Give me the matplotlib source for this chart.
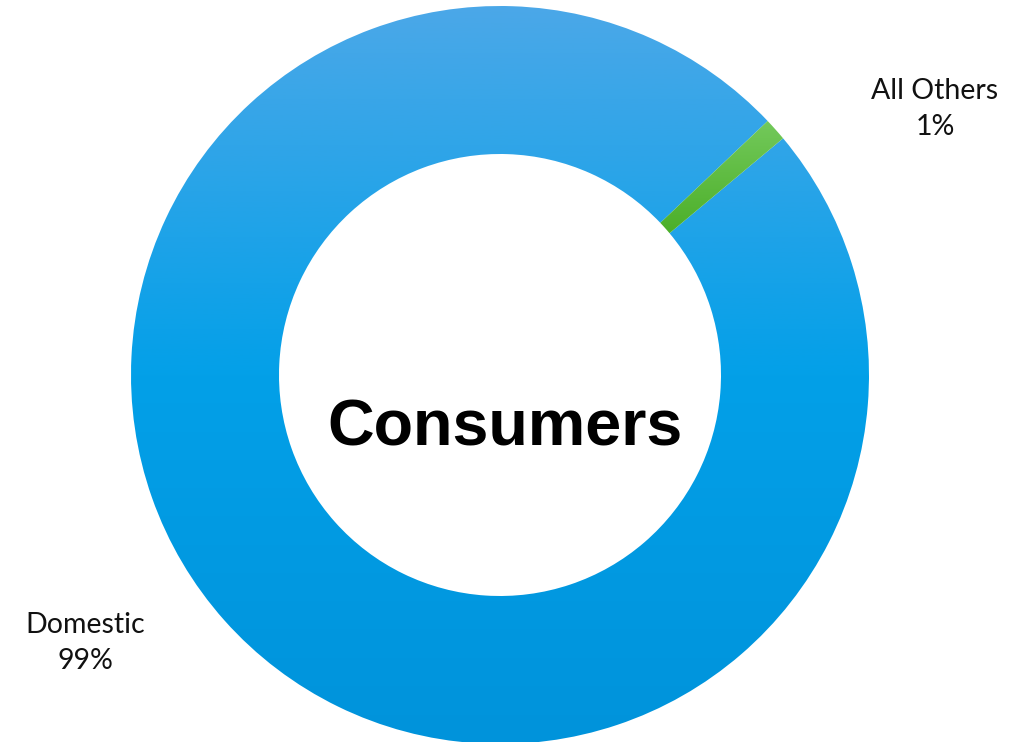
import numpy as np
import matplotlib.pyplot as plt
from matplotlib.colors import LinearSegmentedColormap

# Consumer share by category
categories = ["Domestic", "All Others"]
shares = [99, 1]
label_text = ["Domestic\n99%", "All Others\n1%"]
center_title = "Consumers"

W, H = 1025, 742
fig = plt.figure(figsize=(W / 100, H / 100), dpi=100)
ax = fig.add_axes([0, 0, 1, 1])

cx, cy = 500, H - 375
R = 369
ring = 148

wedges, _ = ax.pie(shares, startangle=43.5, counterclock=True,
                   center=(cx, cy), radius=R,
                   wedgeprops=dict(width=ring, linewidth=0, edgecolor="none"))

ramps = [
    LinearSegmentedColormap.from_list("blue", ["#0093DB", "#03A0E8", "#4BA8E8"]),
    LinearSegmentedColormap.from_list("green", ["#4CAF29", "#73C95B"]),
]

grad = np.linspace(0, 1, 256).reshape(-1, 1)
for w, cmap in zip(wedges, ramps):
    w.set_facecolor("none")
    ext = w.get_path().get_extents(w.get_patch_transform())
    im = ax.imshow(grad, cmap=cmap, origin="lower", aspect="auto",
                   extent=(ext.x0, ext.x1, ext.y0, ext.y1), zorder=1)
    im.set_clip_path(w)

ax.set_xlim(0, W)
ax.set_ylim(0, H)
ax.set_aspect("equal")
ax.axis("off")

lbl_font = dict(family="Lato", fontsize=20.5, color="#111111",
                ha="center", va="center", linespacing=1.45)
ax.text(935, H - 109, label_text[1], **lbl_font)
ax.text(85, H - 643, label_text[0], **lbl_font)

ax.text(505, H - 428, center_title, family="Liberation Sans",
        fontweight="bold", fontsize=46.5, ha="center", va="center",
        color="black")

fig.savefig("out.png", dpi=100)
